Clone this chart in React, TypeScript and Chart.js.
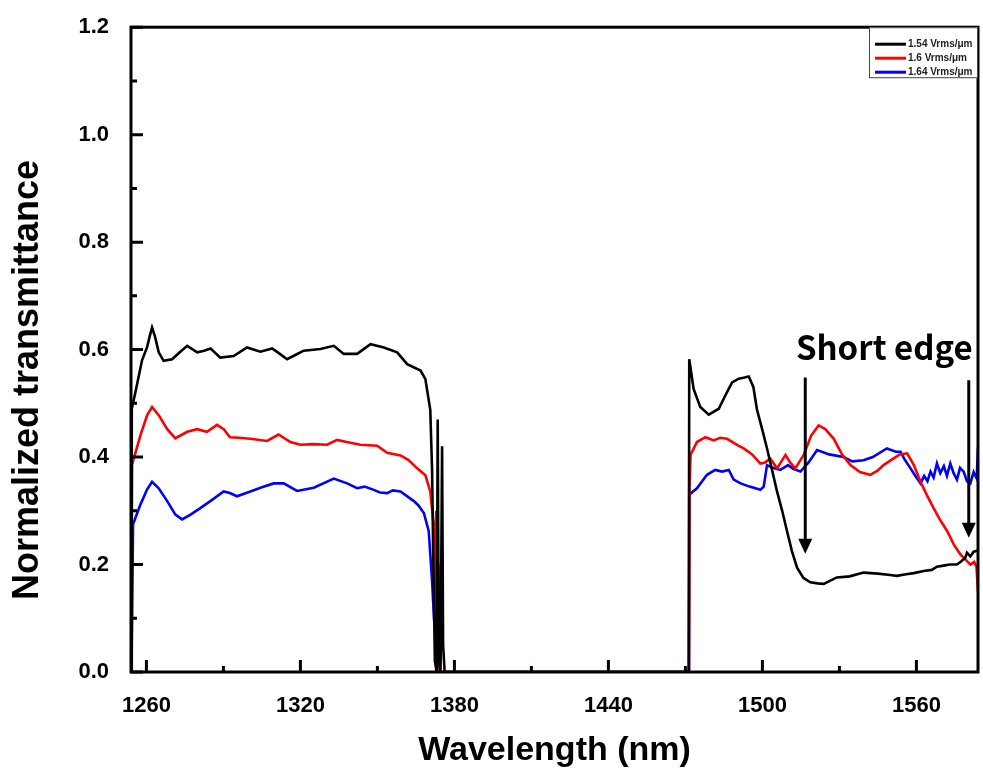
import React, { useEffect, useRef } from "react";
import { Chart, registerables } from "chart.js";

Chart.register(...registerables);

// ---- data (wavelength nm, normalized transmittance) ----
const seriesLabels = ["1.54 Vrms/μm", "1.6 Vrms/μm", "1.64 Vrms/μm"];
const seriesColors = ["#000000", "#ff0000", "#0000ff"];

const black154: number[][] = [
  [1254.1, 0], [1254.3, 0.49], [1255.7, 0.52], [1258.3, 0.58], [1260.3, 0.605], [1261.3, 0.625], [1262.2, 0.641],
  [1263.3, 0.625], [1264.8, 0.595], [1266.7, 0.579], [1270, 0.582], [1273, 0.595], [1275.9, 0.607], [1279.8, 0.595],
  [1282.5, 0.598], [1285, 0.602], [1288.8, 0.585], [1294, 0.588], [1299.2, 0.604], [1304.4, 0.596], [1309, 0.602],
  [1312, 0.592], [1314.8, 0.582], [1318, 0.59], [1321.3, 0.598], [1327.8, 0.601], [1333, 0.607], [1336.9, 0.592],
  [1342.1, 0.592], [1347.3, 0.61], [1352.5, 0.604], [1357.7, 0.595], [1361.6, 0.573], [1366.8, 0.561], [1368.7, 0.545],
  [1370.6, 0.488], [1371.3, 0.377], [1371.8, 0.2], [1372.4, 0.02], [1373.1, 0], [1373.5, 0.47], [1373.9, 0.02],
  [1374.6, 0], [1375.2, 0.42], [1375.6, 0.05], [1376.2, 0],
  [1471.3, 0], [1471.5, 0.582], [1473.2, 0.527], [1475.8, 0.493], [1479.1, 0.479], [1483, 0.49], [1485.6, 0.515],
  [1488.2, 0.539], [1490.8, 0.546], [1493, 0.548], [1494.7, 0.55], [1496.5, 0.53], [1497.9, 0.488], [1500, 0.45],
  [1501.8, 0.416], [1503.8, 0.375], [1505.7, 0.336], [1507.7, 0.3], [1509.6, 0.262], [1511.5, 0.225], [1513.5, 0.194],
  [1516, 0.175], [1518.7, 0.167], [1521.5, 0.165], [1523.9, 0.164], [1526.5, 0.17], [1529, 0.176], [1534, 0.178],
  [1539.4, 0.185], [1545, 0.183], [1549, 0.181], [1552.4, 0.179], [1556, 0.182], [1559, 0.184], [1562.8, 0.188],
  [1566, 0.19], [1568, 0.196], [1570.6, 0.198], [1573, 0.2], [1575.8, 0.2], [1577.5, 0.206], [1579, 0.212],
  [1579.7, 0.222], [1581, 0.215], [1582.3, 0.224], [1584, 0.226],
];

const red16: number[][] = [
  [1254.1, 0], [1254.4, 0.386], [1257.7, 0.441], [1260.3, 0.478], [1262.2, 0.493], [1264.8, 0.478], [1268.1, 0.452],
  [1271.3, 0.435], [1275.9, 0.447], [1279.8, 0.452], [1283.6, 0.447], [1287.5, 0.46], [1290.1, 0.452], [1292.6, 0.437],
  [1296, 0.436], [1300.5, 0.434], [1307, 0.43], [1311.5, 0.442], [1316.1, 0.428], [1320, 0.423], [1325, 0.424],
  [1330.4, 0.423], [1334.3, 0.432], [1338, 0.428], [1343.4, 0.423], [1349.9, 0.421], [1353.8, 0.408], [1359, 0.403],
  [1362, 0.395], [1365.5, 0.379], [1368.7, 0.366], [1370.6, 0.336], [1371.9, 0.275], [1372.4, 0.1], [1372.9, 0.3],
  [1373.4, 0.06], [1373.8, 0.2], [1374.3, 0],
  [1471.4, 0], [1471.6, 0.342], [1472, 0.404], [1474.5, 0.428], [1477.8, 0.437], [1481, 0.431], [1483.5, 0.436],
  [1486.2, 0.434], [1490.8, 0.421], [1492.7, 0.416], [1496, 0.405], [1499.2, 0.388], [1501, 0.39], [1503.1, 0.397],
  [1505.7, 0.379], [1509, 0.404], [1510.8, 0.39], [1512.8, 0.379], [1516.1, 0.404], [1519, 0.44], [1521.9, 0.459],
  [1524.5, 0.452], [1527.8, 0.434], [1531, 0.405], [1534.3, 0.385], [1538, 0.372], [1542, 0.367], [1545, 0.375],
  [1547.2, 0.385], [1551, 0.397], [1553.5, 0.405], [1556.4, 0.407], [1559, 0.385], [1561.6, 0.354], [1564, 0.33],
  [1566.7, 0.305], [1569, 0.285], [1572, 0.262], [1574.5, 0.238], [1577.1, 0.219], [1579, 0.21], [1581, 0.2],
  [1582.5, 0.205], [1583.4, 0.196], [1584, 0.15],
];

const blue164: number[][] = [
  [1254.2, 0], [1254.8, 0.275], [1257.7, 0.312], [1260.3, 0.34], [1262.2, 0.354], [1264.8, 0.342], [1268.1, 0.318],
  [1271.3, 0.293], [1273.9, 0.284], [1277.2, 0.293], [1281, 0.305], [1284.9, 0.318], [1290.1, 0.336], [1292.5, 0.333],
  [1295.3, 0.327], [1300.5, 0.336], [1305, 0.344], [1309.6, 0.351], [1313.5, 0.351], [1318.7, 0.337], [1325.2, 0.343],
  [1333, 0.36], [1338.2, 0.351], [1342.1, 0.342], [1345, 0.345], [1348.6, 0.339], [1351, 0.334], [1353.8, 0.333],
  [1356, 0.338], [1359, 0.336], [1364.2, 0.318], [1366, 0.31], [1368.1, 0.296], [1370, 0.262], [1371.3, 0.17],
  [1372.1, 0.096], [1372.6, 0.12], [1373, 0.03], [1373.4, 0],
  [1471.4, 0], [1471.5, 0.33], [1474.5, 0.342], [1478.4, 0.367], [1481.6, 0.376], [1484.3, 0.373], [1486.9, 0.376],
  [1488.8, 0.358], [1491.5, 0.351], [1495, 0.345], [1499.2, 0.339], [1500.5, 0.345], [1501.8, 0.385], [1504, 0.38],
  [1507, 0.376], [1510, 0.385], [1512, 0.378], [1514.8, 0.373], [1518, 0.39], [1521.3, 0.413], [1526, 0.405],
  [1531.6, 0.4], [1535, 0.392], [1539.4, 0.394], [1543, 0.4], [1548.5, 0.416], [1552, 0.41], [1553.8, 0.41],
  [1555.5, 0.395], [1557.7, 0.379], [1560, 0.362], [1561.6, 0.351], [1563, 0.365], [1564.3, 0.355], [1565.5, 0.373],
  [1566.7, 0.362], [1568, 0.388], [1569.3, 0.37], [1570.7, 0.383], [1571.9, 0.365], [1573.2, 0.388], [1574.5, 0.37],
  [1575.8, 0.358], [1577, 0.38], [1578.4, 0.373], [1579.7, 0.355], [1581, 0.351], [1582.3, 0.372], [1583.5, 0.36],
  [1584, 0.419],
];

// ticks
const xMajorTicks = [1260, 1320, 1380, 1440, 1500, 1560];
const xMinorTicks = [1290, 1350, 1410, 1470, 1530];
const yMajorTicks = [0, 0.2, 0.4, 0.6, 0.8, 1.0, 1.2];
const yMinorTicks = [0.1, 0.3, 0.5, 0.7, 0.9, 1.1];

// annotation ("Short edge" arrows), in data units
const arrowX = [1516.7, 1580.4];
const arrowTop = [0.548, 0.543];
const arrowTip = [0.22, 0.25];
const noteText = "Short edge";
const noteX = 1547.5;
const noteY = 0.58;

const FONT = "'Liberation Sans', Arial, sans-serif";

const toXY = (arr: number[][]) => arr.map(([x, y]) => ({ x, y }));

const decorPlugin = {
  id: "decor",
  afterDatasetsDraw(chart: any) {
    const { ctx, chartArea: a, scales } = chart;
    const xs = scales.x;
    const ys = scales.y;
    ctx.save();
    // frame
    ctx.strokeStyle = "#000";
    ctx.lineWidth = 3;
    ctx.strokeRect(a.left, a.top, a.right - a.left, a.bottom - a.top);
    // inward ticks
    ctx.lineWidth = 3;
    ctx.beginPath();
    xMajorTicks.forEach((v) => {
      const px = xs.getPixelForValue(v);
      ctx.moveTo(px, a.bottom);
      ctx.lineTo(px, a.bottom - 12);
    });
    xMinorTicks.forEach((v) => {
      const px = xs.getPixelForValue(v);
      ctx.moveTo(px, a.bottom);
      ctx.lineTo(px, a.bottom - 6);
    });
    yMajorTicks.forEach((v) => {
      const py = ys.getPixelForValue(v);
      ctx.moveTo(a.left, py);
      ctx.lineTo(a.left + 12, py);
    });
    yMinorTicks.forEach((v) => {
      const py = ys.getPixelForValue(v);
      ctx.moveTo(a.left, py);
      ctx.lineTo(a.left + 6, py);
    });
    ctx.stroke();

    // arrows
    ctx.fillStyle = "#000";
    arrowX.forEach((xv, i) => {
      const px = xs.getPixelForValue(xv);
      const pt = ys.getPixelForValue(arrowTop[i]);
      const pb = ys.getPixelForValue(arrowTip[i]);
      ctx.lineWidth = 3;
      ctx.beginPath();
      ctx.moveTo(px, pt);
      ctx.lineTo(px, pb - 12);
      ctx.stroke();
      ctx.beginPath();
      ctx.moveTo(px - 7, pb - 15);
      ctx.lineTo(px + 7, pb - 15);
      ctx.lineTo(px, pb);
      ctx.closePath();
      ctx.fill();
    });
    ctx.font = "bold 33px 'Noto Sans CJK KR', 'Noto Sans', sans-serif";
    ctx.textAlign = "center";
    ctx.textBaseline = "alphabetic";
    ctx.fillText(noteText, xs.getPixelForValue(noteX), ys.getPixelForValue(noteY));

    // legend
    const lx = a.right - 109;
    const ly = a.top;
    ctx.fillStyle = "#fff";
    ctx.fillRect(lx, ly, 109, 51);
    ctx.strokeStyle = "#444";
    ctx.lineWidth = 1;
    ctx.strokeRect(lx + 0.5, ly + 0.5, 108, 50);
    ctx.font = `bold 10px ${FONT}`;
    ctx.textAlign = "left";
    ctx.textBaseline = "middle";
    seriesLabels.forEach((lab, i) => {
      const yy = ly + 17 + i * 14;
      ctx.strokeStyle = seriesColors[i];
      ctx.lineWidth = 3;
      ctx.beginPath();
      ctx.moveTo(lx + 6, yy);
      ctx.lineTo(lx + 37, yy);
      ctx.stroke();
      ctx.fillStyle = "#222";
      ctx.fillText(lab, lx + 39, yy + 0.5);
    });

    // axis titles
    ctx.fillStyle = "#000";
    ctx.font = `bold 34px ${FONT}`;
    ctx.textAlign = "center";
    ctx.textBaseline = "middle";
    ctx.fillText("Wavelength (nm)", (a.left + a.right) / 2, 751);
    ctx.save();
    ctx.translate(28, 380);
    ctx.rotate(-Math.PI / 2);
    ctx.font = `bold 36px ${FONT}`;
    ctx.fillText("Normalized transmittance", 0, 0);
    ctx.restore();
    ctx.restore();
  },
};

export default function App() {
  const ref = useRef<HTMLCanvasElement | null>(null);
  useEffect(() => {
    if (!ref.current) return;
    const data = [black154, red16, blue164];
    const chart = new Chart(ref.current, {
      type: "line",
      data: {
        datasets: data.map((d, i) => ({
          label: seriesLabels[i],
          data: toXY(d),
          borderColor: seriesColors[i],
          backgroundColor: seriesColors[i],
          borderWidth: 2.6,
          pointRadius: 0,
          tension: 0,
          fill: false,
        })),
      },
      options: {
        animation: false,
        responsive: false,
        maintainAspectRatio: false,
        layout: { padding: { top: 22, right: 5, left: 0, bottom: 0 } },
        plugins: { legend: { display: false }, tooltip: { enabled: false } },
        scales: {
          x: {
            type: "linear",
            min: 1254,
            max: 1584,
            afterFit: (s: any) => {
              s.height = 101;
            },
            afterBuildTicks: (s: any) => {
              s.ticks = xMajorTicks.map((v) => ({ value: v }));
            },
            grid: { display: false },
            border: { display: false },
            ticks: {
              padding: 13,
              color: "#000",
              font: { family: FONT, weight: "bold", size: 22 },
              callback: (v: any) => String(v),
            },
          },
          y: {
            type: "linear",
            min: 0,
            max: 1.2,
            afterFit: (s: any) => {
              s.width = 131;
            },
            afterBuildTicks: (s: any) => {
              s.ticks = yMajorTicks.map((v) => ({ value: v }));
            },
            grid: { display: false },
            border: { display: false },
            ticks: {
              padding: 14,
              color: "#000",
              font: { family: FONT, weight: "bold", size: 22 },
              callback: (v: any) => Number(v).toFixed(1),
            },
          },
        },
      },
      plugins: [decorPlugin],
    });
    return () => chart.destroy();
  }, []);
  return (
    <div style={{ position: "fixed", left: 0, top: 0, width: 983, height: 773, background: "#fff" }}>
      <canvas ref={ref} width={983} height={773} style={{ width: 983, height: 773, display: "block" }} />
    </div>
  );
}
